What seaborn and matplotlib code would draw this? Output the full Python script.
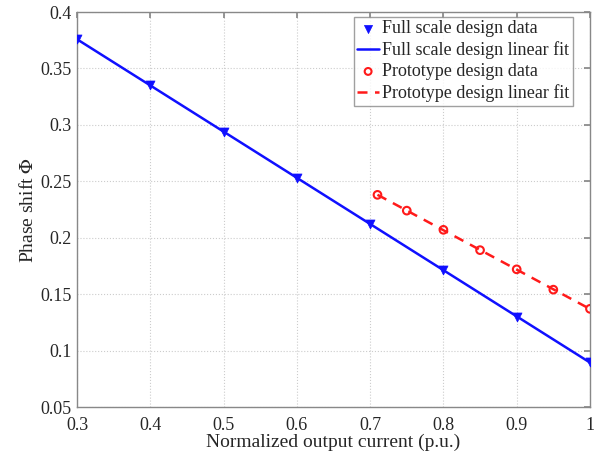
import matplotlib
matplotlib.use("Agg")
import matplotlib.pyplot as plt
import seaborn as sns
import numpy as np
import pandas as pd

# Full scale design: phase shift vs normalized output current
full_current = [0.3, 0.4, 0.5, 0.6, 0.7, 0.8, 0.9, 1.0]
full_phase = [0.376, 0.335, 0.294, 0.253, 0.212, 0.171, 0.130, 0.090]

# Prototype design
proto_current = [0.71, 0.75, 0.80, 0.85, 0.90, 0.95, 1.00]
proto_phase = [0.238, 0.224, 0.207, 0.189, 0.172, 0.154, 0.137]

x_ticks = [0.3, 0.4, 0.5, 0.6, 0.7, 0.8, 0.9, 1.0]
x_tick_labels = ["0.3", "0.4", "0.5", "0.6", "0.7", "0.8", "0.9", "1"]
y_ticks = [0.05, 0.1, 0.15, 0.2, 0.25, 0.3, 0.35, 0.4]
y_tick_labels = ["0.05", "0.1", "0.15", "0.2", "0.25", "0.3", "0.35", "0.4"]

sns.set_theme(style="white")
plt.rcParams["font.family"] = ["Liberation Serif", "DejaVu Serif"]
plt.rcParams["mathtext.fontset"] = "stix"

full_df = pd.DataFrame({"current": full_current, "phase": full_phase})
proto_df = pd.DataFrame({"current": proto_current, "phase": proto_phase})

# Linear fits
fc = np.polyfit(full_current, full_phase, 1)
pc = np.polyfit(proto_current, proto_phase, 1)
full_fit = pd.DataFrame({"current": [full_current[0], full_current[-1]]})
full_fit["phase"] = np.polyval(fc, full_fit["current"])
proto_fit = pd.DataFrame({"current": [proto_current[0], proto_current[-1]]})
proto_fit["phase"] = np.polyval(pc, proto_fit["current"])

fig = plt.figure(figsize=(6.02, 4.53), dpi=100)
ax = fig.add_axes([0.128, 0.1015, 0.852, 0.872])

blue = "#1010ff"
red = "#ff1a1a"

sns.scatterplot(data=full_df, x="current", y="phase", ax=ax, marker="v",
                color=blue, edgecolor=blue, s=42, zorder=4,
                label="Full scale design data")
sns.lineplot(data=full_fit, x="current", y="phase", ax=ax, color=blue,
             linewidth=1.8, zorder=3, label="Full scale design linear fit")
sns.scatterplot(data=proto_df, x="current", y="phase", ax=ax, marker="o",
                facecolor="none", edgecolor=red, linewidth=1.5, s=30,
                zorder=4, label="Prototype design data")
sns.lineplot(data=proto_fit, x="current", y="phase", ax=ax, color=red,
             linewidth=1.8, linestyle=(0, (4, 3)), zorder=3,
             label="Prototype design linear fit")

ax.set_xlim(0.3, 1.0)
ax.set_ylim(0.05, 0.4)
ax.set_xticks(x_ticks)
ax.set_xticklabels(x_tick_labels)
ax.set_yticks(y_ticks)
ax.set_yticklabels(y_tick_labels)
ax.tick_params(direction="in", length=4, labelsize=13, color="#888888",
               top=True, right=True, pad=4)
ax.tick_params(axis="x", pad=7)
ax.grid(True, linestyle=":", color="#cccccc", linewidth=0.8)
for sp in ax.spines.values():
    sp.set_color("#888888")
    sp.set_linewidth(1.0)

ax.set_xlabel("Normalized output current (p.u.)", fontsize=14, labelpad=0)
ax.set_ylabel("Phase shift $\\Phi$", fontsize=14, labelpad=2)

leg = ax.legend(loc="upper right", bbox_to_anchor=(0.966, 0.988),
                fontsize=13, frameon=True, fancybox=False,
                edgecolor="#888888", borderpad=0.2, labelspacing=0.22,
                handlelength=1.2, handletextpad=0.15, borderaxespad=0.0,
                markerscale=0.9)
leg.get_frame().set_linewidth(1.0)

fig.savefig("out.png", dpi=100)
